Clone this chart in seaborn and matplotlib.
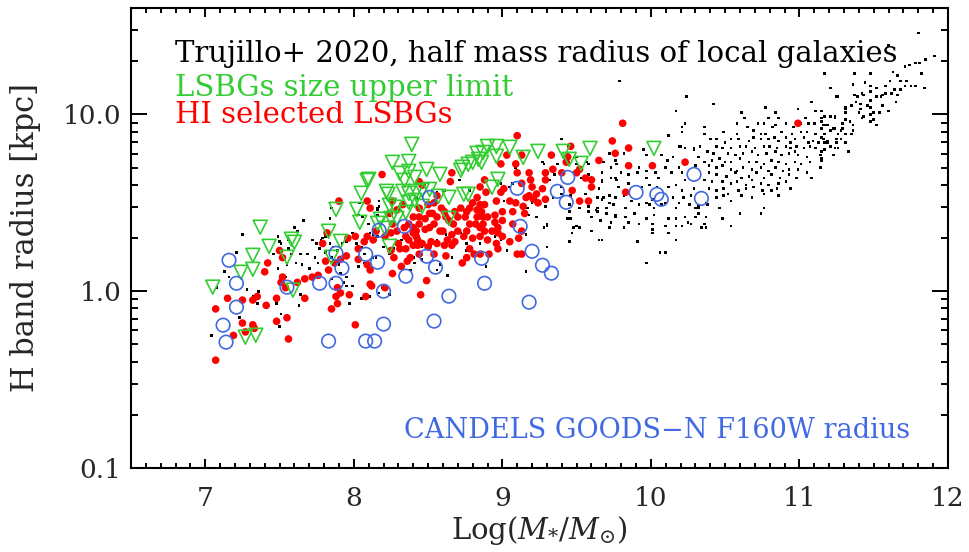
import numpy as np
import pandas as pd
import matplotlib
matplotlib.use("Agg")
import matplotlib.pyplot as plt
import seaborn as sns
from matplotlib.ticker import FixedLocator, FixedFormatter, LogLocator, NullFormatter, MultipleLocator

# ---------------- data: (log stellar mass, log10 radius [kpc]) ----------------
# CANDELS GOODS-N F160W radius (open blue circles)
candels = [
    (7.16, 0.175), (7.21, 0.045), (7.21, -0.090), (7.12, -0.192), (7.14, -0.288),
    (7.55, 0.023), (7.77, 0.045), (7.88, 0.045), (7.88, 0.215), (7.92, 0.130),
    (7.83, -0.282), (8.08, -0.282), (8.14, -0.282), (8.08, 0.209), (8.17, 0.345),
    (8.34, 0.367), (8.51, 0.531), (8.16, 0.164), (8.49, 0.198), (8.55, 0.136),
    (8.35, 0.085), (8.20, 0.000), (8.86, 0.186), (8.88, 0.045), (8.64, -0.028),
    (8.54, -0.169), (8.20, -0.186), (9.12, 0.367), (9.10, 0.582), (9.20, 0.226),
    (9.27, 0.147), (9.33, 0.102), (9.18, -0.062), (9.37, 0.565), (9.44, 0.644),
    (9.43, 0.503), (9.90, 0.559), (10.04, 0.548), (10.07, 0.520), (10.29, 0.661),
    (10.34, 0.525),
]

# LSBGs size upper limit (open green down-triangles)
lsbg_limit = [
    (7.05, 0.023), (7.37, 0.362), (7.43, 0.254), (7.32, 0.203), (7.32, 0.124),
    (7.24, 0.107), (7.58, 0.294), (7.60, 0.277), (7.55, 0.192), (7.59, 0.006),
    (7.27, -0.260), (7.34, -0.249), (7.88, 0.463), (7.83, 0.339), (7.91, 0.282),
    (7.85, 0.192), (8.09, 0.627), (8.05, 0.554), (8.02, 0.463), (8.04, 0.390),
    (8.16, 0.384), (8.39, 0.831), (8.26, 0.729), (8.37, 0.734), (8.10, 0.633),
    (8.31, 0.667), (8.37, 0.678), (8.49, 0.689), (8.58, 0.661), (8.34, 0.627),
    (8.41, 0.644), (8.22, 0.565), (8.23, 0.548), (8.33, 0.565), (8.37, 0.554),
    (8.42, 0.565), (8.46, 0.571), (8.51, 0.576), (8.24, 0.486), (8.28, 0.475),
    (8.37, 0.503), (8.41, 0.514), (8.46, 0.480), (8.57, 0.537), (8.64, 0.531),
    (8.18, 0.407), (8.25, 0.412), (8.29, 0.412), (8.21, 0.356), (8.35, 0.446),
    (8.24, 0.254), (8.64, 0.412), (8.73, 0.701), (8.77, 0.718), (8.80, 0.729),
    (8.83, 0.780), (8.87, 0.785), (8.90, 0.819), (8.96, 0.819), (9.05, 0.814),
    (8.96, 0.763), (9.14, 0.757), (8.74, 0.548), (8.77, 0.548), (8.97, 0.633),
    (8.93, 0.588), (8.72, 0.684), (8.86, 0.729), (9.24, 0.791), (9.41, 0.791),
    (9.45, 0.746), (9.53, 0.723), (9.59, 0.808), (10.02, 0.808), (8.84, 0.746),
]

# HI selected LSBGs (filled red dots)
hi_lsbg = [
    (7.90, 0.51), (7.96, 0.30), (7.82, 0.33), (7.79, 0.27), (7.50, 0.23), (7.52, 0.19),
    (7.42, 0.16), (7.40, 0.11), (7.52, 0.08), (7.51, 0.05), (7.54, 0.02), (7.62, 0.05),
    (7.67, 0.07), (7.72, 0.08), (7.76, 0.09), (7.83, 0.12), (7.81, 0.17), (7.87, 0.16),
    (7.91, 0.18), (7.95, 0.20), (8.03, 0.24), (8.03, 0.18), (8.09, 0.15), (8.11, 0.12),
    (8.01, 0.31), (8.07, 0.28), (8.09, 0.31), (7.89, 0.02), (7.91, -0.01), (7.88, -0.03),
    (7.97, -0.02), (7.89, -0.07), (7.85, -0.10), (8.08, -0.03), (8.12, 0.03), (7.67, -0.04),
    (7.48, -0.04), (7.35, -0.03), (7.32, -0.05), (7.25, -0.05), (7.15, -0.04), (7.07, -0.10),
    (7.41, -0.08), (7.55, -0.15), (7.48, -0.17), (7.25, -0.18), (7.32, -0.19), (7.33, -0.21),
    (7.27, -0.23), (7.19, -0.25), (7.56, -0.27), (8.01, -0.19), (7.07, -0.39), (8.09, 0.51),
    (8.11, 0.47), (9.10, 0.88), (8.19, 0.66), (9.03, 0.77), (8.99, 0.72), (9.09, 0.72),
    (9.13, 0.77), (8.66, 0.67), (8.65, 0.62), (8.44, 0.62), (8.46, 0.60), (8.88, 0.63),
    (8.85, 0.59), (8.89, 0.56), (8.99, 0.56), (9.01, 0.58), (9.05, 0.51), (9.09, 0.50),
    (9.14, 0.48), (9.00, 0.45), (9.07, 0.45), (9.15, 0.44), (8.96, 0.51), (8.83, 0.53),
    (8.80, 0.50), (8.85, 0.49), (8.88, 0.49), (8.78, 0.47), (8.83, 0.46), (8.86, 0.45),
    (8.76, 0.45), (8.75, 0.42), (8.83, 0.42), (8.87, 0.42), (8.90, 0.42), (8.95, 0.43),
    (9.00, 0.40), (9.07, 0.38), (8.95, 0.39), (8.97, 0.36), (8.93, 0.34), (8.97, 0.33),
    (9.00, 0.31), (8.87, 0.38), (8.88, 0.34), (8.85, 0.36), (8.82, 0.38), (8.76, 0.34),
    (8.78, 0.38), (8.70, 0.42), (8.68, 0.45), (8.72, 0.47), (8.70, 0.34), (8.67, 0.38),
    (8.64, 0.40), (8.62, 0.42), (8.60, 0.34), (8.66, 0.32), (8.74, 0.31), (8.68, 0.28),
    (8.80, 0.30), (8.85, 0.31), (8.90, 0.29), (8.96, 0.27), (8.97, 0.24), (9.05, 0.28),
    (9.13, 0.34), (9.11, 0.30), (9.10, 0.21), (8.91, 0.21), (8.85, 0.21), (8.78, 0.24),
    (8.66, 0.26), (8.63, 0.29), (8.58, 0.34), (8.54, 0.38), (8.56, 0.42), (8.51, 0.44),
    (8.48, 0.41), (8.51, 0.36), (8.44, 0.38), (8.48, 0.35), (8.42, 0.34), (8.40, 0.36),
    (8.37, 0.38), (8.40, 0.33), (8.35, 0.31), (8.37, 0.29), (8.42, 0.31), (8.43, 0.29),
    (8.40, 0.26), (8.43, 0.26), (8.46, 0.27), (8.52, 0.28), (8.56, 0.27), (8.61, 0.26),
    (8.50, 0.25), (8.35, 0.24), (8.30, 0.27), (8.31, 0.24), (8.25, 0.23), (8.44, 0.21),
    (8.54, 0.21), (8.62, 0.20), (8.76, 0.19), (8.27, 0.19), (8.38, 0.19), (8.34, 0.36),
    (8.29, 0.34), (8.26, 0.38), (8.25, 0.33), (8.21, 0.31), (8.15, 0.34), (8.13, 0.29),
    (8.24, 0.44), (8.29, 0.46), (8.33, 0.49), (8.44, 0.47), (8.50, 0.49), (8.54, 0.50),
    (8.59, 0.47), (8.61, 0.45), (8.53, 0.44), (8.44, 0.42), (8.40, 0.42), (8.56, 0.54),
    (8.26, 0.51), (8.26, 0.10), (8.32, 0.14), (8.45, -0.02), (8.49, 0.06), (8.73, 0.16),
    (8.81, 0.21), (9.13, 0.21), (8.21, 0.02), (8.11, 0.04), (8.36, 0.17),
    (9.74, 0.85), (9.85, 0.81), (9.76, 0.78), (9.65, 0.74), (9.85, 0.71), (10.01, 0.71),
    (10.23, 0.73), (9.46, 0.82), (9.33, 0.77), (9.44, 0.76), (9.43, 0.73), (9.52, 0.69),
    (9.56, 0.64), (9.60, 0.63), (9.60, 0.59), (9.50, 0.67), (9.47, 0.57), (9.52, 0.51),
    (9.58, 0.51), (9.83, 0.56), (9.40, 0.67), (9.29, 0.67), (9.29, 0.63), (9.18, 0.67),
    (9.19, 0.63), (9.20, 0.59), (9.27, 0.58), (9.23, 0.55), (9.29, 0.52), (9.21, 0.52),
    (9.24, 0.50), (9.18, 0.54), (9.34, 0.69), (9.81, 0.95), (10.99, 0.95), (9.10, 0.67),
    (9.13, 0.61), (9.16, 0.53),
]

# Trujillo+ 2020 local galaxies, half mass radius (small black dots)
trujillo = [
    (7.25, 0.32), (7.21, 0.22), (7.13, 0.11), (7.16, 0.08), (7.08, 0.02), (7.28, 0.01),
    (7.36, 0.00), (7.32, -0.03), (7.49, 0.31), (7.50, 0.28), (7.46, 0.21), (7.60, 0.36),
    (7.62, 0.34), (7.66, 0.40), (7.56, 0.24), (7.58, 0.21), (7.49, 0.13), (7.54, 0.08),
    (7.64, 0.21), (7.69, 0.21), (7.72, 0.29), (7.70, 0.13), (7.74, 0.19), (7.76, 0.16),
    (7.75, 0.27), (7.78, 0.29), (7.81, 0.31), (7.84, 0.27), (7.86, 0.25), (7.89, 0.23),
    (7.92, 0.27), (7.95, 0.28), (7.99, 0.33), (8.02, 0.27), (8.05, 0.25), (8.03, 0.43),
    (8.06, 0.42), (8.04, 0.50), (7.91, 0.10), (7.95, 0.08), (7.93, 0.05), (7.85, 0.07),
    (7.90, 0.15), (7.65, 0.15), (7.55, 0.03), (7.63, -0.08), (7.48, -0.07), (7.23, -0.15),
    (7.50, -0.20), (7.04, -0.25), (7.95, 0.03), (7.99, 0.03), (7.97, -0.07), (8.05, -0.04),
    (8.11, -0.03), (7.85, 0.19), (7.77, 0.24), (7.56, 0.29), (7.51, 0.27), (7.55, 0.15),
    (7.61, 0.16), (7.79, 0.30), (7.84, 0.41), (7.85, 0.47), (7.81, 0.22), (7.64, -0.02),
    (7.66, -0.05), (7.51, -0.13), (7.35, -0.07), (8.10, 0.38), (8.16, 0.47), (8.11, 0.33),
    (8.07, 0.21), (8.13, 0.19), (8.07, 0.16), (8.03, 0.14), (8.16, 0.31), (8.15, 0.19),
    (9.40, 0.86), (9.27, 0.73), (9.46, 0.82), (9.50, 0.76), (9.58, 0.72), (9.67, 0.67),
    (9.73, 0.70), (9.72, 0.78), (9.76, 0.74), (9.76, 0.64), (9.67, 0.62), (9.65, 0.58),
    (9.58, 0.66), (9.68, 0.53), (9.72, 0.50), (9.76, 0.43), (9.70, 0.47), (9.63, 0.46),
    (9.58, 0.48), (9.45, 0.45), (9.44, 0.41), (9.50, 0.37), (9.52, 0.36), (9.60, 0.34),
    (9.65, 0.29), (9.45, 0.28), (9.30, 0.38), (9.28, 0.36), (9.30, 0.25), (9.16, 0.32),
    (9.05, 0.27), (9.03, 0.23), (9.16, 0.11), (8.89, 0.14), (8.63, 0.09), (9.01, 0.51),
    (9.05, 0.59), (9.20, 0.50), (9.17, 0.47), (9.10, 0.50), (8.99, 0.29), (8.95, 0.31),
    (8.85, 0.27), (8.76, 0.27), (8.76, 0.23), (8.72, 0.33), (8.68, 0.33), (8.62, 0.32),
    (8.56, 0.29), (8.52, 0.26), (8.46, 0.25), (8.44, 0.20), (8.40, 0.19), (8.34, 0.23),
    (8.32, 0.29), (8.27, 0.24), (8.24, 0.21), (8.20, 0.25), (8.15, 0.29), (8.13, 0.32),
    (8.16, 0.46), (8.17, 0.48), (8.16, 0.43), (8.38, 0.12), (8.41, 0.16), (8.46, 0.18),
    (8.56, 0.12), (8.58, 0.15), (8.62, 0.19), (8.66, 0.19), (8.19, 0.02), (8.17, -0.01),
    (8.24, -0.02), (8.97, 0.72), (9.09, 0.70), (9.07, 0.61), (8.99, 0.61), (8.71, 0.63),
    (8.61, 0.57), (8.78, 0.57), (8.17, 0.51), (8.42, 0.53), (8.56, 0.56),
    (10.12, 0.88), (10.21, 0.90), (10.20, 0.82), (10.23, 0.81), (9.82, 0.78), (9.95, 0.80),
    (10.07, 0.77), (10.11, 0.74), (10.15, 0.76), (9.97, 0.77), (9.28, 0.72), (9.37, 0.72),
    (9.50, 0.72), (9.57, 0.73), (9.68, 0.73), (9.77, 0.72), (9.80, 0.67), (9.92, 0.70),
    (9.85, 0.66), (9.91, 0.67), (9.97, 0.64), (9.97, 0.68), (10.03, 0.67), (10.05, 0.64),
    (10.10, 0.70), (10.14, 0.67), (10.19, 0.70), (10.21, 0.67), (10.23, 0.63), (10.17, 0.60),
    (9.32, 0.63), (9.35, 0.66), (9.53, 0.64), (9.60, 0.63), (9.67, 0.63), (9.73, 0.64),
    (9.77, 0.63), (9.78, 0.59), (9.85, 0.61), (9.94, 0.59), (9.99, 0.60), (10.04, 0.59),
    (10.12, 0.59), (10.21, 0.57), (9.40, 0.59), (9.40, 0.55), (9.46, 0.54), (9.56, 0.55),
    (9.64, 0.53), (9.67, 0.52), (9.72, 0.54), (9.76, 0.53), (9.82, 0.54), (9.87, 0.51),
    (9.97, 0.50), (10.01, 0.52), (10.10, 0.50), (10.15, 0.53), (10.19, 0.50), (10.22, 0.53),
    (9.34, 0.53), (9.29, 0.48), (9.45, 0.49), (9.52, 0.47), (9.64, 0.47), (9.75, 0.49),
    (9.83, 0.47), (9.92, 0.49), (9.99, 0.49), (10.02, 0.47), (10.07, 0.49), (10.17, 0.47),
    (9.58, 0.45), (9.64, 0.45), (9.60, 0.42), (9.70, 0.44), (9.76, 0.42), (9.83, 0.42),
    (9.89, 0.44), (9.97, 0.41), (10.02, 0.43), (10.12, 0.41), (10.17, 0.41), (10.23, 0.42),
    (9.46, 0.41), (9.66, 0.40), (9.73, 0.39), (9.85, 0.39), (9.92, 0.38), (10.01, 0.38),
    (10.10, 0.37), (10.17, 0.37), (9.48, 0.36), (9.30, 0.37), (9.72, 0.36), (9.82, 0.36),
    (10.01, 0.35), (10.12, 0.33), (10.17, 0.29), (9.47, 0.33), (9.91, 0.28), (10.10, 0.22),
    (10.06, 0.22), (9.97, 0.16), (9.18, 0.43), (9.23, 0.42), (9.25, 0.51),
    (9.79, 1.19), (10.24, 1.10), (10.42, 1.06), (10.17, 1.02), (10.21, 0.93), (10.23, 0.95),
    (10.19, 0.82), (10.29, 0.81), (9.67, 0.29), (10.01, 0.33), (10.37, 0.36), (10.54, 0.37),
    (10.60, 0.44), (10.74, 0.44), (10.32, 0.44), (10.32, 0.48), (10.37, 0.50), (10.30, 0.47),
    (10.37, 0.42), (10.25, 0.39), (10.21, 0.37),
    (10.77, 1.04), (10.61, 1.01), (10.84, 1.01), (10.99, 1.03), (11.08, 1.07), (11.25, 1.10),
    (11.15, 1.02), (11.11, 1.02), (11.31, 1.04), (11.21, 0.99), (11.24, 0.99), (10.63, 0.98),
    (10.79, 0.98), (10.86, 0.98), (11.04, 0.98), (11.15, 0.98), (10.72, 0.95), (10.76, 0.95),
    (10.82, 0.93), (10.84, 0.94), (10.91, 0.95), (10.96, 0.93), (11.01, 0.95), (11.06, 0.95),
    (11.10, 0.95), (11.16, 0.94), (11.19, 0.94), (11.31, 0.97), (10.58, 0.95), (10.65, 0.93),
    (10.36, 0.93), (10.49, 0.90), (10.36, 0.89), (10.58, 0.89), (10.69, 0.91), (10.74, 0.89),
    (10.77, 0.89), (10.88, 0.90), (10.95, 0.89), (11.01, 0.90), (11.05, 0.90), (11.11, 0.89),
    (11.17, 0.89), (11.23, 0.92), (11.28, 0.91), (11.31, 0.89), (10.40, 0.86), (10.44, 0.86),
    (10.50, 0.84), (10.54, 0.86), (10.59, 0.86), (10.66, 0.85), (10.69, 0.87), (10.74, 0.86),
    (10.79, 0.86), (10.83, 0.87), (10.86, 0.85), (10.91, 0.87), (10.94, 0.84), (10.97, 0.86),
    (11.03, 0.87), (11.06, 0.84), (11.09, 0.85), (11.13, 0.84), (11.16, 0.86), (11.19, 0.84),
    (11.25, 0.86), (11.28, 0.86), (10.33, 0.82), (10.44, 0.82), (10.48, 0.81), (10.54, 0.81),
    (10.60, 0.82), (10.64, 0.82), (10.70, 0.81), (10.76, 0.82), (10.80, 0.82), (10.85, 0.81),
    (10.91, 0.82), (10.94, 0.81), (10.98, 0.82), (11.03, 0.81), (11.07, 0.82), (11.11, 0.81),
    (11.17, 0.80), (11.24, 0.81), (10.29, 0.80), (10.38, 0.79), (10.42, 0.78), (10.52, 0.78),
    (10.57, 0.77), (10.62, 0.78), (10.68, 0.79), (10.72, 0.77), (10.78, 0.78), (10.84, 0.79),
    (10.88, 0.77), (10.93, 0.78), (10.97, 0.79), (10.99, 0.77), (11.05, 0.76), (11.14, 0.77),
    (11.15, 0.74), (10.32, 0.76), (10.36, 0.73), (10.41, 0.74), (10.46, 0.75), (10.50, 0.73),
    (10.54, 0.73), (10.60, 0.75), (10.66, 0.73), (10.71, 0.73), (10.76, 0.72), (10.81, 0.74),
    (10.86, 0.73), (10.91, 0.72), (10.97, 0.73), (11.01, 0.72), (11.07, 0.73), (11.14, 0.70),
    (10.30, 0.71), (10.39, 0.71), (10.44, 0.70), (10.48, 0.71), (10.54, 0.69), (10.58, 0.68),
    (10.62, 0.70), (10.68, 0.69), (10.74, 0.70), (10.79, 0.68), (10.84, 0.70), (10.89, 0.68),
    (10.93, 0.69), (10.99, 0.69), (11.05, 0.67), (10.39, 0.67), (10.44, 0.66), (10.51, 0.65),
    (10.57, 0.67), (10.61, 0.64), (10.66, 0.65), (10.71, 0.67), (10.76, 0.64), (10.81, 0.66),
    (10.87, 0.64), (10.93, 0.66), (10.98, 0.64), (11.08, 0.64), (10.36, 0.63), (10.41, 0.62),
    (10.48, 0.62), (10.54, 0.61), (10.58, 0.62), (10.64, 0.60), (10.68, 0.63), (10.74, 0.61),
    (10.79, 0.60), (10.86, 0.61), (10.91, 0.62), (10.39, 0.58), (10.44, 0.57), (10.49, 0.58),
    (10.52, 0.55), (10.59, 0.57), (10.64, 0.58), (10.69, 0.59), (10.75, 0.57), (10.81, 0.57),
    (10.85, 0.58), (10.94, 0.58), (10.27, 0.54), (10.29, 0.58), (10.44, 0.53), (10.49, 0.54),
    (10.54, 0.51), (10.61, 0.54), (10.68, 0.53), (10.76, 0.55), (10.86, 0.54), (10.26, 0.49),
    (10.32, 0.47), (10.38, 0.49), (10.46, 0.47), (10.76, 0.47), (10.30, 0.42), (10.36, 0.38),
    (10.48, 0.41), (10.27, 0.38), (10.34, 0.36),
    (11.80, 1.46), (11.91, 1.33), (11.85, 1.31), (11.81, 1.29), (11.78, 1.29), (11.74, 1.28),
    (11.71, 1.27), (11.17, 1.23), (11.37, 1.23), (11.48, 1.23), (11.63, 1.24), (11.66, 1.22),
    (11.72, 1.19), (11.82, 1.23), (11.36, 1.17), (11.44, 1.18), (11.48, 1.16), (11.52, 1.15),
    (11.58, 1.16), (11.61, 1.19), (11.68, 1.19), (11.71, 1.16), (11.75, 1.16), (11.78, 1.16),
    (11.84, 1.15), (11.21, 1.15), (11.26, 1.10), (11.37, 1.11), (11.39, 1.10), (11.43, 1.11),
    (11.48, 1.13), (11.55, 1.10), (11.58, 1.12), (11.62, 1.12), (11.64, 1.14), (11.68, 1.14),
    (11.66, 1.11), (11.48, 1.08), (11.52, 1.10), (11.38, 1.07), (11.41, 1.06), (11.35, 1.05),
    (11.31, 1.03), (11.46, 1.05), (11.48, 1.04), (11.65, 1.07), (11.56, 1.05), (11.60, 1.02),
    (11.54, 1.01), (11.31, 1.01), (11.41, 1.03), (11.40, 1.01), (11.43, 0.99), (11.48, 1.00),
    (11.42, 0.98), (11.50, 1.01), (11.50, 0.97), (11.48, 0.96), (11.52, 0.94), (11.17, 0.99),
    (11.21, 0.99), (11.24, 0.98), (11.29, 0.95), (11.34, 0.96), (11.36, 0.94), (11.29, 0.92),
    (11.15, 0.96), (11.15, 0.92), (11.18, 0.94), (11.21, 0.91), (11.24, 0.92), (11.26, 0.89),
    (11.35, 0.89), (11.17, 0.89), (11.15, 0.87), (11.17, 0.84), (11.19, 0.85), (11.21, 0.82),
    (11.25, 0.84), (11.31, 0.84), (11.26, 0.81), (11.33, 0.79), (11.23, 0.77), (11.15, 0.79),
    (11.15, 0.75), (11.36, 0.91), (11.60, 1.39), (11.42, 1.12), (11.56, 1.11),
]

x_ticks = [7, 8, 9, 10, 11, 12]
y_ticks = [0.1, 1.0, 10.0]
y_tick_labels = ["0.1", "1.0", "10.0"]

label_trujillo = "Trujillo+ 2020, half mass radius of local galaxies"
label_limit = "LSBGs size upper limit"
label_hi = "HI selected LSBGs"
label_candels = "CANDELS GOODS\u2212N F160W radius"

C_BLACK = "black"
C_RED = "#ff0000"
C_GREEN = "#33cc33"
C_BLUE = "#4169e1"


def frame(points):
    arr = np.array(points, dtype=float)
    return pd.DataFrame({"logM": arr[:, 0], "R": 10 ** arr[:, 1]})


sns.set_style("ticks")
plt.rcParams["font.family"] = ["DejaVu Serif"]
plt.rcParams["mathtext.fontset"] = "dejavuserif"

fig = plt.figure(figsize=(9.69, 5.52), dpi=100)
ax = fig.add_axes([131 / 969, 1 - 468 / 552, 817 / 969, 460 / 552])

sns.scatterplot(data=frame(trujillo), x="logM", y="R", ax=ax, marker="s", s=3.5,
                color=C_BLACK, edgecolor="none", linewidth=0, zorder=2)
sns.scatterplot(data=frame(hi_lsbg), x="logM", y="R", ax=ax, marker="o", s=30,
                color=C_RED, edgecolor="none", linewidth=0, zorder=3)
sns.scatterplot(data=frame(lsbg_limit), x="logM", y="R", ax=ax, marker="v", s=100,
                color=C_GREEN, facecolor="none", edgecolor=C_GREEN, linewidth=1.2, zorder=4)
sns.scatterplot(data=frame(candels), x="logM", y="R", ax=ax, marker="o", s=95,
                color=C_BLUE, facecolor="none", edgecolor=C_BLUE, linewidth=1.2, zorder=5)

ax.set_xlim(6.5, 12.0)
ax.set_yscale("log")
ax.set_ylim(0.1, 40)

ax.xaxis.set_major_locator(FixedLocator(x_ticks))
ax.xaxis.set_major_formatter(FixedFormatter([str(t) for t in x_ticks]))
ax.xaxis.set_minor_locator(MultipleLocator(0.1))
ax.yaxis.set_major_locator(FixedLocator(y_ticks))
ax.yaxis.set_major_formatter(FixedFormatter(y_tick_labels))
ax.yaxis.set_minor_locator(LogLocator(base=10, subs=np.arange(2, 10)))
ax.yaxis.set_minor_formatter(NullFormatter())

ax.tick_params(which="both", direction="in", top=True, right=True, width=1.4,
               labelsize=19, color="black")
ax.tick_params(axis="x", which="major", length=6.5, pad=13)
ax.tick_params(axis="x", which="minor", length=3.6)
ax.tick_params(axis="y", which="major", length=11.5, pad=7)
ax.tick_params(axis="y", which="minor", length=5.0)
for sp in ax.spines.values():
    sp.set_linewidth(1.5)
    sp.set_color("black")

ax.set_xlabel(r"Log($M_{*}/M_{\odot}$)", fontsize=21)
ax.set_ylabel("H band radius [kpc]", fontsize=22)
ax.xaxis.set_label_coords(0.5, (468 - 514) / 460)
ax.yaxis.set_label_coords((41 - 131) / 817, 0.5)

tx = (175 - 131) / 817
ax.text(tx, (468 - 62) / 460, label_trujillo, transform=ax.transAxes, fontsize=21,
        color=C_BLACK, ha="left", va="baseline")
ax.text(tx, (468 - 96) / 460, label_limit, transform=ax.transAxes, fontsize=21,
        color=C_GREEN, ha="left", va="baseline")
ax.text(tx, (468 - 123) / 460, label_hi, transform=ax.transAxes, fontsize=21,
        color=C_RED, ha="left", va="baseline")
ax.text((910 - 131) / 817, (468 - 438) / 460, label_candels, transform=ax.transAxes,
        fontsize=19.5, color=C_BLUE, ha="right", va="baseline")

if ax.get_legend() is not None:
    ax.get_legend().remove()

fig.savefig("out.png", dpi=100)
